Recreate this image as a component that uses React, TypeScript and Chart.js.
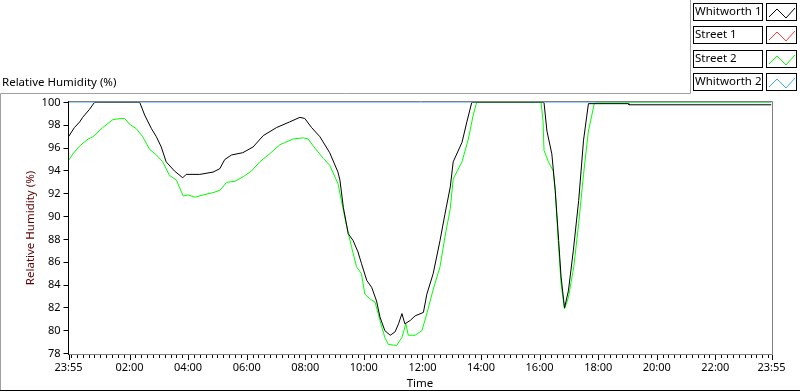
import React, { useEffect, useRef } from "react";
import { Chart, registerables } from "chart.js";

Chart.register(...registerables);

// ---------- data ----------
const seriesNames = ["Whitworth 1", "Street 1", "Street 2", "Whitworth 2"];
const seriesColors = ["#000000", "#ff3b3b", "#00ff00", "#35aef0"];

// time = minutes after 23:55
const w1Minutes = [0, 12, 23, 29, 43, 53, 146, 156, 170, 180, 190, 200, 217, 234, 241, 269, 296, 310, 320, 334, 357, 378, 399, 426, 453, 474, 484, 498, 515, 535, 552, 556, 563, 573, 583, 593, 600, 611, 621, 631, 638, 648, 659, 669, 676, 683, 689, 700, 710, 727, 734, 747, 761, 771, 782, 788, 806, 816, 826, 974, 980, 990, 997, 1004, 1009, 1016, 1024, 1034, 1045, 1055, 1065, 1147, 1148, 1440];
const w1Values = [97.0, 97.8, 98.3, 98.7, 99.4, 100, 100, 98.9, 97.7, 97.0, 96.1, 94.8, 94.0, 93.4, 93.7, 93.7, 93.9, 94.2, 95.0, 95.4, 95.6, 96.1, 97.1, 97.8, 98.3, 98.7, 98.6, 97.8, 97.0, 95.6, 93.9, 93.2, 90.8, 88.5, 87.9, 86.9, 85.9, 84.4, 83.8, 82.6, 81.2, 80.0, 79.6, 79.9, 80.6, 81.5, 80.6, 80.9, 81.3, 81.6, 83.2, 85.0, 87.9, 90.2, 92.6, 94.8, 96.5, 98.3, 100, 100, 97.5, 95.5, 92.3, 87.9, 84.7, 82.0, 83.5, 87.0, 91.4, 96.7, 99.9, 99.9, 99.8, 99.8];

const s1Minutes: number[] = [];
const s1Values: number[] = [];

const s2Minutes = [0, 9, 23, 40, 50, 70, 91, 108, 115, 125, 139, 152, 166, 180, 193, 207, 221, 235, 245, 259, 276, 296, 310, 324, 341, 358, 375, 392, 412, 433, 460, 481, 491, 501, 522, 535, 552, 559, 570, 580, 590, 600, 607, 617, 628, 638, 648, 655, 672, 683, 691, 696, 710, 724, 734, 747, 761, 771, 782, 788, 806, 819, 829, 836, 968, 972, 974, 983, 993, 997, 1003, 1009, 1016, 1024, 1035, 1045, 1055, 1065, 1077, 1081, 1440];
const s2Values = [94.9, 95.5, 96.2, 96.8, 97.0, 97.8, 98.5, 98.6, 98.6, 98.1, 97.7, 97.0, 95.9, 95.4, 94.8, 93.6, 93.2, 91.8, 91.9, 91.7, 91.9, 92.1, 92.3, 93.0, 93.1, 93.5, 94.0, 94.8, 95.5, 96.3, 96.8, 96.9, 96.8, 96.2, 95.1, 94.5, 92.9, 91.4, 89.1, 87.3, 85.6, 85.0, 83.2, 82.8, 82.5, 80.9, 79.4, 78.8, 78.7, 79.4, 80.6, 79.6, 79.6, 80.0, 81.5, 83.6, 85.6, 88.2, 90.7, 93.3, 94.8, 96.8, 98.9, 100, 100, 98.4, 95.8, 94.8, 94.0, 92.3, 87.9, 84.1, 81.9, 82.9, 85.6, 89.4, 93.7, 97.5, 99.9, 100, 100];

const w2Minutes = [0, 1440];
const w2Values = [100, 100];

const xTickLabels = ["23:55", "02:00", "04:00", "06:00", "08:00", "10:00", "12:00", "14:00", "16:00", "18:00", "20:00", "22:00", "23:55"];
const xMajorMinutes = [0, 125, 245, 365, 485, 605, 725, 845, 965, 1085, 1205, 1325, 1440];
const xMinorStart = 5; // 00:00
const xMinorStep = 12;
const xMin = 0;
const xMax = 1440;

const yMin = 78;
const yMax = 100;
const yStep = 2;

const plotLabel = "Relative Humidity (%)";
const yTitle = "Relative Humidity (%)";
const xTitle = "Time";

// ---------- helpers ----------
const FONT = '"Noto Sans", "DejaVu Sans", sans-serif';
const TICK_SIZE = 11;
const TEXT_SIZE = 11.5;

const toPoints = (mins: number[], vals: number[]) => mins.map((m, i) => ({ x: m, y: vals[i] }));

const minorTicks: number[] = [];
for (let m = xMinorStart; m < xMax; m += xMinorStep) minorTicks.push(m);
const allXTicks = Array.from(new Set([...xMajorMinutes, ...minorTicks])).sort((a, b) => a - b);

const decorPlugin = {
  id: "decor",
  afterDraw(chart: any) {
    const ctx = chart.ctx as CanvasRenderingContext2D;
    const { left, right, top, bottom } = chart.chartArea;
    const xs = chart.scales.x;
    ctx.save();

    // outer panel frame
    ctx.lineWidth = 1;
    ctx.strokeStyle = "#a0a0a0";
    ctx.beginPath();
    ctx.moveTo(0.5, 390);
    ctx.lineTo(0.5, 93.5);
    ctx.lineTo(690.5, 93.5);
    ctx.lineTo(690.5, 0);
    ctx.stroke();
    ctx.strokeStyle = "#000";
    ctx.beginPath();
    ctx.moveTo(0, 390.5);
    ctx.lineTo(800, 390.5);
    ctx.stroke();

    // plot area border
    const bx0 = Math.floor(left) + 0.5;
    const by0 = Math.floor(top) - 0.5;
    const bx1 = Math.ceil(right) + 0.5;
    const by1 = Math.ceil(bottom) + 0.5;
    ctx.strokeStyle = "#808080";
    ctx.beginPath();
    ctx.moveTo(bx0, by0);
    ctx.lineTo(bx1, by0);
    ctx.lineTo(bx1, by1);
    ctx.lineTo(bx0, by1);
    ctx.stroke();
    ctx.strokeStyle = "#000";
    ctx.beginPath();
    ctx.moveTo(bx0, by0 - 0.5);
    ctx.lineTo(bx0, by1 + 0.5);
    ctx.stroke();

    // x ticks (major + minor)
    ctx.strokeStyle = "#000";
    for (const m of allXTicks) {
      const px = Math.round(xs.getPixelForValue(m)) + 0.5;
      const major = xMajorMinutes.includes(m);
      ctx.beginPath();
      ctx.moveTo(px, by1 + 0.5);
      ctx.lineTo(px, by1 + 0.5 + (major ? 5 : 3));
      ctx.stroke();
    }

    // plot label
    ctx.fillStyle = "#000";
    ctx.font = `${TEXT_SIZE}px ${FONT}`;
    ctx.textAlign = "left";
    ctx.textBaseline = "middle";
    ctx.fillText(plotLabel, 2, 83);

    // legend
    const rowTops = [3, 26, 50, 73];
    chart.data.datasets.forEach((ds: any, i: number) => {
      const y0 = rowTops[i];
      ctx.fillStyle = "#fff";
      ctx.fillRect(693, y0, 70, 17);
      ctx.fillRect(766, y0, 31, 17);
      ctx.strokeStyle = "#000";
      ctx.lineWidth = 1;
      ctx.strokeRect(693.5, y0 + 0.5, 69, 17);
      ctx.strokeRect(766.5, y0 + 0.5, 30, 17);
      ctx.fillStyle = "#000";
      ctx.font = `${TEXT_SIZE}px ${FONT}`;
      ctx.textAlign = "left";
      ctx.textBaseline = "middle";
      ctx.fillText(ds.label, 695, y0 + 9);
      ctx.strokeStyle = ds.borderColor;
      ctx.beginPath();
      ctx.moveTo(769, y0 + 14);
      ctx.lineTo(777, y0 + 6);
      ctx.lineTo(786, y0 + 15);
      ctx.lineTo(795, y0 + 5);
      ctx.stroke();
    });

    ctx.restore();
  },
};

export default function App() {
  const ref = useRef<HTMLCanvasElement | null>(null);

  useEffect(() => {
    if (!ref.current) return;
    const mins = [w1Minutes, s1Minutes, s2Minutes, w2Minutes];
    const vals = [w1Values, s1Values, s2Values, w2Values];
    const chart = new Chart(ref.current, {
      type: "line",
      data: {
        datasets: seriesNames.map((name, i) => ({
          label: name,
          data: toPoints(mins[i], vals[i]),
          borderColor: seriesColors[i],
          backgroundColor: seriesColors[i],
          borderWidth: 1,
          pointRadius: 0,
          tension: 0,
          fill: false,
        })),
      },
      options: {
        responsive: false,
        animation: false,
        events: [],
        parsing: false,
        layout: { padding: { top: 102.5, right: 28.5, left: 0, bottom: 0 } },
        plugins: {
          legend: { display: false },
          tooltip: { enabled: false },
          title: { display: false },
        },
        scales: {
          x: {
            type: "linear",
            min: xMin,
            max: xMax,
            afterBuildTicks: (s: any) => {
              s.ticks = allXTicks.map((v) => ({ value: v }));
            },
            afterFit: (s: any) => {
              s.height = 38.5;
            },
            ticks: {
              autoSkip: false,
              maxRotation: 0,
              minRotation: 0,
              color: "#000",
              padding: 3,
              font: { family: FONT, size: TICK_SIZE },
              callback: (v: any) => {
                const idx = xMajorMinutes.indexOf(Number(v));
                return idx >= 0 ? xTickLabels[idx] : "";
              },
            },
            grid: { display: true, drawOnChartArea: false, drawTicks: true, tickLength: 5, color: "rgba(0,0,0,0)" },
            border: { display: false },
            title: { display: true, text: xTitle, color: "#000", font: { family: FONT, size: TEXT_SIZE }, padding: { top: 0, bottom: 1 } },
          },
          y: {
            type: "linear",
            min: yMin,
            max: yMax,
            afterFit: (s: any) => {
              s.width = 68.5;
            },
            ticks: { stepSize: yStep, color: "#000", padding: 3, font: { family: FONT, size: TICK_SIZE } },
            grid: { display: true, drawOnChartArea: false, drawTicks: true, tickLength: 5, color: "#000" },
            border: { display: false },
            title: { display: true, text: yTitle, color: "#600000", font: { family: FONT, size: TEXT_SIZE }, padding: { top: 24, bottom: 0 } },
          },
        },
      },
      plugins: [decorPlugin],
    } as any);
    return () => chart.destroy();
  }, []);

  return (
    <div style={{ position: "absolute", left: 0, top: 0, width: 800, height: 392, background: "#fff" }}>
      <canvas ref={ref} width={800} height={392} style={{ display: "block" }} />
    </div>
  );
}
